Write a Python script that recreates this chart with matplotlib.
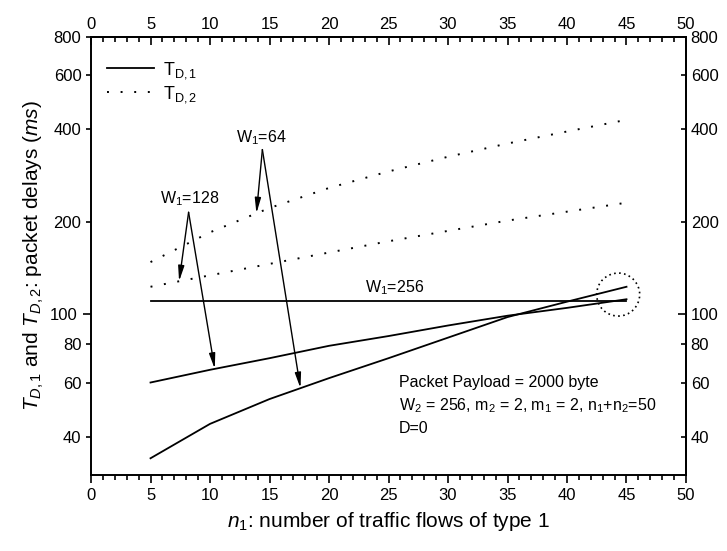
import numpy as np
import matplotlib
matplotlib.use("Agg")
import matplotlib.pyplot as plt
import matplotlib.transforms as mtransforms
from matplotlib.patches import Ellipse

plt.rcParams['font.family'] = 'Liberation Sans'
plt.rcParams['mathtext.fontset'] = 'custom'
plt.rcParams['mathtext.rm'] = 'Liberation Sans'
plt.rcParams['mathtext.it'] = 'Liberation Sans:italic'

# data
n1 = [5, 10, 15, 20, 25, 30, 35, 40, 45]
td1_w64 = [34, 44, 53, 62, 72, 84, 98, 110, 123]
td1_w128 = [60, 66, 72, 79, 85, 92, 99, 105, 112]
td1_w256 = [110.5, 110.5, 110.5, 110.5, 110.5, 110.5, 110.5, 110.5, 110.5]
td2_w64 = [148, 185, 222, 258, 292, 326, 360, 394, 430]
td2_w128 = [123, 134, 146, 159, 173, 187, 202, 216, 231]

xticks = [0, 5, 10, 15, 20, 25, 30, 35, 40, 45, 50]
ymajor = [100]
yminor = [40, 60, 80, 200, 400, 600, 800]

fig = plt.figure(figsize=(7.27, 5.51), dpi=100)
ax = fig.add_axes([0.1252, 0.138, 0.8184, 0.7948])

dots = (0, (1, 6))
ax.plot(n1, td1_w64, color='k', lw=1.3, label=r'T$_{\mathregular{D,1}}$')
ax.plot(n1, td1_w128, color='k', lw=1.3)
ax.plot(n1, td1_w256, color='k', lw=1.3)
ax.plot(n1, td2_w64, color='k', lw=1.4, ls=dots, label=r'T$_{\mathregular{D,2}}$')
ax.plot(n1, td2_w128, color='k', lw=1.4, ls=dots)

ax.set_yscale('log')
ax.set_xlim(0, 50)
ax.set_ylim(30, 800)

ax.set_xticks(xticks)
ax.set_xticks(range(0, 51), minor=True)
ax.set_yticks(ymajor, [str(v) for v in ymajor])
ax.set_yticks(yminor, [str(v) for v in yminor], minor=True)
ax.tick_params(which='both', direction='out', labelsize=12, width=1.2)
ax.tick_params(which='major', length=6)
ax.tick_params(which='minor', length=3.5)
for s in ax.spines.values():
    s.set_linewidth(1.4)

top = ax.secondary_xaxis('top')
top.set_xticks(xticks)
top.set_xticks(range(0, 51), minor=True)
top.tick_params(which='both', direction='in', labelsize=12, width=1.2)
top.tick_params(which='major', length=6)
top.tick_params(which='minor', length=3.5)
top.spines['top'].set_linewidth(1.4)

right = ax.secondary_yaxis('right')
right.set_yticks(ymajor, [str(v) for v in ymajor])
right.set_yticks(yminor, [str(v) for v in yminor], minor=True)
right.tick_params(which='both', direction='in', labelsize=12, width=1.2)
right.tick_params(which='major', length=6)
right.tick_params(which='minor', length=3.5)
right.spines['right'].set_linewidth(1.4)

ax.set_xlabel(r'$n_1$: number of traffic flows of type 1', fontsize=15, labelpad=5)
ax.set_ylabel(r'$T_{D,1}$ and $T_{D,2}$: packet delays ($ms$)', fontsize=15, labelpad=3)

leg = ax.legend(loc='upper left', bbox_to_anchor=(0.0, 0.985), frameon=False,
                fontsize=13, handlelength=2.6, handletextpad=0.5, labelspacing=0.2)


def on_curve(x, xs, ys):
    return 10 ** np.interp(x, xs, np.log10(ys))


arrow = dict(arrowstyle='-|>,head_length=0.9,head_width=0.18', color='k', lw=1.0,
             shrinkA=0, shrinkB=0)

# W1=64
ax.text(14.3, 352, r'W$_\mathregular{1}$=64', ha='center', va='bottom', fontsize=11.5)
ax.annotate('', xy=(13.9, on_curve(13.9, n1, td2_w64)), xytext=(14.4, 344), arrowprops=arrow)
ax.annotate('', xy=(17.6, on_curve(17.6, n1, td1_w64)), xytext=(14.4, 344), arrowprops=arrow)

# W1=128
ax.text(8.3, 222, r'W$_\mathregular{1}$=128', ha='center', va='bottom', fontsize=11.5)
ax.annotate('', xy=(7.4, on_curve(7.4, n1, td2_w128)), xytext=(8.2, 215), arrowprops=arrow)
ax.annotate('', xy=(10.4, on_curve(10.4, n1, td1_w128)), xytext=(8.2, 215), arrowprops=arrow)

# W1=256
ax.text(25.5, 114, r'W$_\mathregular{1}$=256', ha='center', va='bottom', fontsize=11.5)

# dotted circle around the end points
trans = fig.dpi_scale_trans + mtransforms.ScaledTranslation(44.3, 116, ax.transData)
ax.add_patch(Ellipse((0, 0), 0.43, 0.43, transform=trans, fill=False, ls=(0, (1, 2)),
                     lw=1.2, color='k'))

ax.text(0.518, 0.228, 'Packet Payload = 2000 byte\n'
        r'W$_\mathregular{2}$ = 256, m$_\mathregular{2}$ = 2, m$_\mathregular{1}$ = 2, '
        r'n$_\mathregular{1}$+n$_\mathregular{2}$=50' '\nD=0',
        transform=ax.transAxes, ha='left', va='top', fontsize=11.5, linespacing=1.45)

fig.savefig('out.png', dpi=100)
